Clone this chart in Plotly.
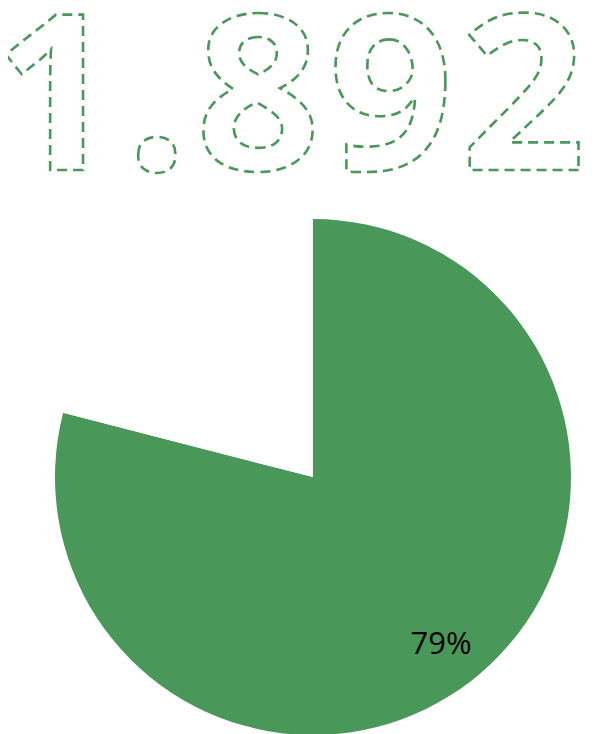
import plotly.graph_objects as go

# Data
big_number = "1.892"
labels = ["Share", "Rest"]
values = [79, 21]
slice_colors = ["#4a9859", "#ffffff"]
slice_texts = ["%{percent:.0%}", ""]

GREEN = "#4a9859"
PIE_DOMAIN = dict(x=[0.0790, 0.9462], y=[0.0095, 0.7125])

OUTLINE = "fill:none;stroke:%s;stroke-width:2.6px;stroke-dasharray:10 6" % GREEN
big_text = (
    '<span style="%s;letter-spacing:8px">%s</span>'
    '<span style="%s">%s</span>'
) % (OUTLINE, big_number[:-1], OUTLINE, big_number[-1])

fig = go.Figure()
# filled pie
fig.add_trace(go.Pie(
    labels=labels,
    values=values,
    sort=False,
    direction="clockwise",
    rotation=0,
    marker=dict(colors=slice_colors, line=dict(width=0)),
    textinfo="none",
    hoverinfo="skip",
    showlegend=False,
    domain=PIE_DOMAIN,
))
# transparent ring used only to place the percentage label further out
fig.add_trace(go.Pie(
    labels=labels,
    values=values,
    sort=False,
    direction="clockwise",
    rotation=0,
    hole=0.62,
    marker=dict(colors=["rgba(0,0,0,0)", "rgba(0,0,0,0)"], line=dict(width=0)),
    texttemplate=slice_texts,
    textposition="inside",
    insidetextorientation="horizontal",
    textfont=dict(family="Open Sans", size=31, color="#000000"),
    hoverinfo="skip",
    showlegend=False,
    domain=PIE_DOMAIN,
))

fig.add_annotation(
    text=big_text,
    x=-0.0286, y=0.6894, xref="paper", yref="paper",
    xanchor="left", yanchor="bottom",
    showarrow=False,
    font=dict(family="Open Sans", size=218, color=GREEN, weight="bold"),
)

fig.update_layout(
    width=595, height=734,
    margin=dict(l=0, r=0, t=0, b=0),
    paper_bgcolor="white", plot_bgcolor="white",
)

post = """
(function(){
  var css = '.annotation-text{fill:none !important;stroke:%s !important;stroke-width:2.6px;stroke-dasharray:10 6;}';
  var st = document.createElement('style');
  st.innerHTML = css;
  document.head.appendChild(st);
})();
""" % GREEN

fig.write_html("out.html", post_script=post)
